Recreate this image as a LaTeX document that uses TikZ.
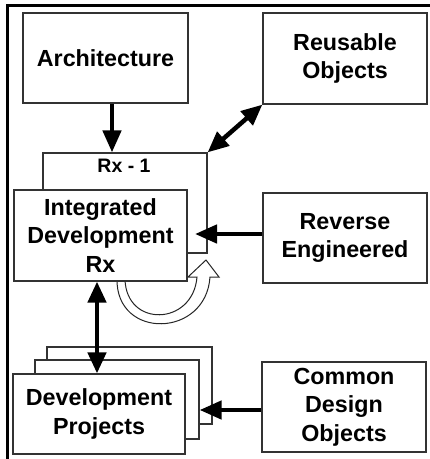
\documentclass[tikz,border=0pt]{standalone}
\usepackage{fontspec}
\setmainfont{Liberation Sans}
\usetikzlibrary{arrows.meta}
\tikzset{
  box/.style={draw=black!80, line width=1.2pt, fill=white, inner sep=0pt, align=center,
    font=\fontsize{23.3}{28.5}\selectfont\bfseries},
  bigarrow/.style={line width=4.5pt, -{Triangle[length=22pt,width=18pt]}},
  dblarrow/.style={line width=4.5pt, {Triangle[length=21pt,width=18pt]}-{Triangle[length=21pt,width=18pt]}},
  hollow/.style={draw=black!85, line width=1pt, fill=white, line join=miter}
}
\begin{document}
\begin{tikzpicture}[x=1pt,y=-1pt]
\useasboundingbox (0,0) rectangle (430,459);
% frame
\draw[line width=3pt] (7,465) -- (7,5) -- (436,5);
% boxes
\node[box, minimum width=165pt, minimum height=90pt] (arch) at (105.5,58) {Architecture};
\node[box, minimum width=164pt, minimum height=91pt] (reuse) at (345,58.5) {Reusable\\Objects};
\node[box, minimum width=164pt, minimum height=100pt] (rx1) at (125,203) {};
\node[font=\fontsize{19.5}{22}\selectfont\bfseries, anchor=north, inner sep=0pt] (rx1lbl) at (124,159) {Rx - 1};
% curved hollow arrow
\draw[hollow] (117,279) .. controls (116,340) and (206,338) .. (210,277)
  -- (219,277) -- (206,260) -- (188,277) -- (197,277)
  .. controls (193,326) and (126,328) .. (125,279) -- cycle;
\node[box, minimum width=173pt, minimum height=91pt] (intg) at (100.5,235.5) {Integrated\\Development\\Rx};
\node[box, minimum width=164pt, minimum height=90pt] (rev) at (345,238) {Reverse\\Engineered};
\node[box, minimum width=165pt, minimum height=77pt] (devb) at (129.5,385.5) {};
\node[box, minimum width=164pt, minimum height=79pt] (devm) at (117,399.5) {};
\node[box, minimum width=172pt, minimum height=80pt] (devf) at (99,414) {Development\\Projects};
\node[box, minimum width=164pt, minimum height=90pt] (com) at (344,407) {Common\\Design\\Objects};
\coordinate (revtip) at (195,234);
% arrows
\draw[bigarrow] ([xshift=6.5pt]arch.south) -- ([xshift=6.5pt]arch.south |- rx1.north);
\draw[dblarrow] (reuse.south west) -- (rx1.north east);
\draw[bigarrow] ([yshift=4pt]rev.west) -- (revtip);
\draw[dblarrow] ([xshift=-3.5pt]intg.south) -- ([xshift=-3.5pt]intg.south |- devf.north);
\draw[bigarrow] ([yshift=-3pt]com.west) -- ([yshift=-3pt]com.west -| devm.east);
\end{tikzpicture}
\end{document}
